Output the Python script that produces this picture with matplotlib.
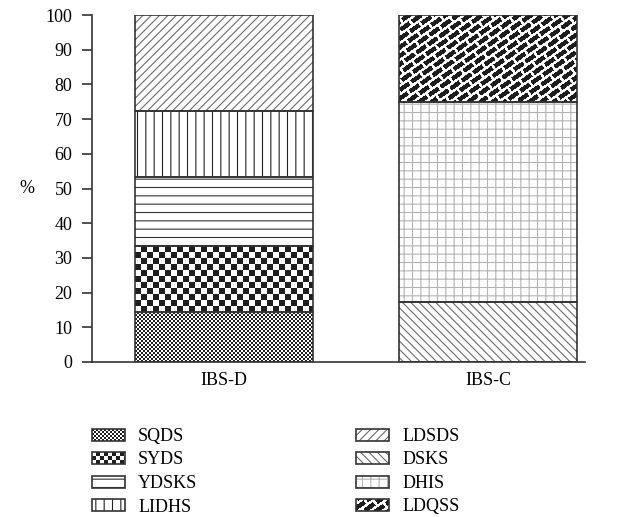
import numpy as np
import matplotlib
matplotlib.use('Agg')
import matplotlib.pyplot as plt
from matplotlib.colors import ListedColormap
from matplotlib.patches import Rectangle, Patch
from matplotlib.legend_handler import HandlerBase

# data, segments from bottom to top
groups = ['IBS-D', 'IBS-C']
ibs_d_labels = ['SQDS', 'SYDS', 'YDSKS', 'LIDHS', 'LDSDS']
ibs_d_values = [14.4, 19.0, 19.9, 19.0, 27.7]
ibs_c_labels = ['DSKS', 'DHIS', 'LDQSS']
ibs_c_values = [17.3, 57.7, 25.0]
legend_left = ['SQDS', 'SYDS', 'YDSKS', 'LIDHS']
legend_right = ['LDSDS', 'DSKS', 'DHIS', 'LDQSS']
yticks = list(range(0, 101, 10))

DPI = 100
ink = '#1e1e1e'
edge = '#333333'
ink_cmap = ListedColormap(['white', ink])

# (kind, pattern/hatch, bar cell or hatch colour, legend cell)
styles = {
    'SQDS': ('img', 'checker', 2, 2),
    'SYDS': ('img', 'checker', 6, 4),
    'YDSKS': ('hatch', '--', '#333333'),
    'LIDHS': ('hatch', '||', '#222222'),
    'LDSDS': ('hatch', '////', '#6a6a6a'),
    'DSKS': ('hatch', '\\\\\\\\', '#6a6a6a'),
    'DHIS': ('hatch', '++', '#b4b4b4'),
    'LDQSS': ('img', 'brick', 1, 1),
}

FS = 13
plt.rcParams['font.family'] = ['Liberation Serif', 'DejaVu Serif']
plt.rcParams['font.size'] = FS
plt.rcParams['hatch.linewidth'] = 0.8


def pattern(kind, w, h, cell):
    yy, xx = np.mgrid[0:h, 0:w]
    if kind == 'checker':
        return ((xx // cell + yy // cell) % 2).astype(float)
    a = np.radians(35)
    u = xx * np.cos(a) + yy * np.sin(a)
    v = -xx * np.sin(a) + yy * np.cos(a)
    k = np.floor(v / 7.0)
    on = ((v % 7.0) < 4.5) & (((u + k * 7.0) % 14.0) < 11.5)
    return on.astype(float)


class PatternHandler(HandlerBase):
    def __init__(self, style):
        super().__init__()
        self.style = style

    def create_artists(self, legend, orig_handle, xdescent, ydescent,
                       width, height, fontsize, trans):
        x0, y0 = -xdescent, -ydescent
        st = self.style
        arts = []
        if st[0] == 'hatch':
            arts.append(Rectangle((x0, y0), width, height, facecolor='white',
                                  edgecolor=st[2], hatch=st[1], linewidth=0,
                                  transform=trans))
        else:
            px = 72.0 / DPI
            w = int(round(width / px))
            h = int(round(height / px))
            arr = pattern(st[1], w, h, st[3])
            for j in range(h):
                i = 0
                while i < w:
                    if arr[j, i] > 0:
                        n = 1
                        while i + n < w and arr[j, i + n] > 0:
                            n += 1
                        arts.append(Rectangle((x0 + i * px, y0 + j * px), n * px, px,
                                              facecolor=ink, edgecolor='none',
                                              antialiased=False, transform=trans))
                        i += n
                    else:
                        i += 1
        arts.append(Rectangle((x0, y0), width, height, fill=False,
                              edgecolor=edge, linewidth=1.2, transform=trans))
        return arts


fig = plt.figure(figsize=(6.2, 5.17), dpi=DPI)
ax = fig.add_axes([92 / 620, 155 / 517, 493 / 620, 347 / 517])
xlim = (-0.499, 1.365)
ylim = (0, 100)
ax.set_xlim(*xlim)
ax.set_ylim(*ylim)
bar_w = 0.673


def draw_stack(x, labels, values):
    bottom = 0
    for lab, val in zip(labels, values):
        st = styles[lab]
        if st[0] == 'hatch':
            ax.bar(x, val, bar_w, bottom=bottom, color='white', edgecolor=st[2],
                   hatch=st[1], linewidth=0, zorder=2)
        else:
            x0, x1 = x - bar_w / 2, x + bar_w / 2
            p0 = ax.transData.transform((x0, bottom))
            p1 = ax.transData.transform((x1, bottom + val))
            w = int(round(p1[0] - p0[0]))
            h = int(round(p1[1] - p0[1]))
            arr = pattern(st[1], w, h, st[2])
            ax.imshow(arr, extent=(x0, x1, bottom, bottom + val), origin='lower',
                      cmap=ink_cmap, vmin=0, vmax=1, interpolation='nearest',
                      aspect='auto', zorder=2)
        ax.bar(x, val, bar_w, bottom=bottom, fill=False, edgecolor=edge,
               linewidth=1.2, zorder=3)
        bottom += val


draw_stack(0, ibs_d_labels, ibs_d_values)
draw_stack(1, ibs_c_labels, ibs_c_values)
ax.set_xlim(*xlim)
ax.set_ylim(*ylim)

ax.spines['top'].set_visible(False)
ax.spines['right'].set_visible(False)
for s in ['left', 'bottom']:
    ax.spines[s].set_color(edge)
    ax.spines[s].set_linewidth(1.2)
ax.set_yticks(yticks)
ax.set_xticks([0, 1])
ax.set_xticklabels(groups)
ax.tick_params(axis='y', length=7.2, width=1.2, color=edge, pad=7)
ax.tick_params(axis='x', length=0, pad=7)
ax.set_ylabel('%', rotation=0, ha='center', va='center')
ax.yaxis.set_label_coords(-0.132, 0.5)

# two legend columns under the plot
for names, xpos in [(legend_left, 92 / 620), (legend_right, 356 / 620)]:
    handles = [Patch(label=n) for n in names]
    hmap = {h: PatternHandler(styles[n]) for h, n in zip(handles, names)}
    fig.legend(handles=handles, handler_map=hmap, loc='upper left',
               bbox_to_anchor=(xpos, (517 - 428) / 517), frameon=False,
               borderpad=0, borderaxespad=0, handlelength=1.83, handleheight=0.66,
               handletextpad=0.72, labelspacing=0.36)

fig.savefig('out.png', dpi=DPI)
